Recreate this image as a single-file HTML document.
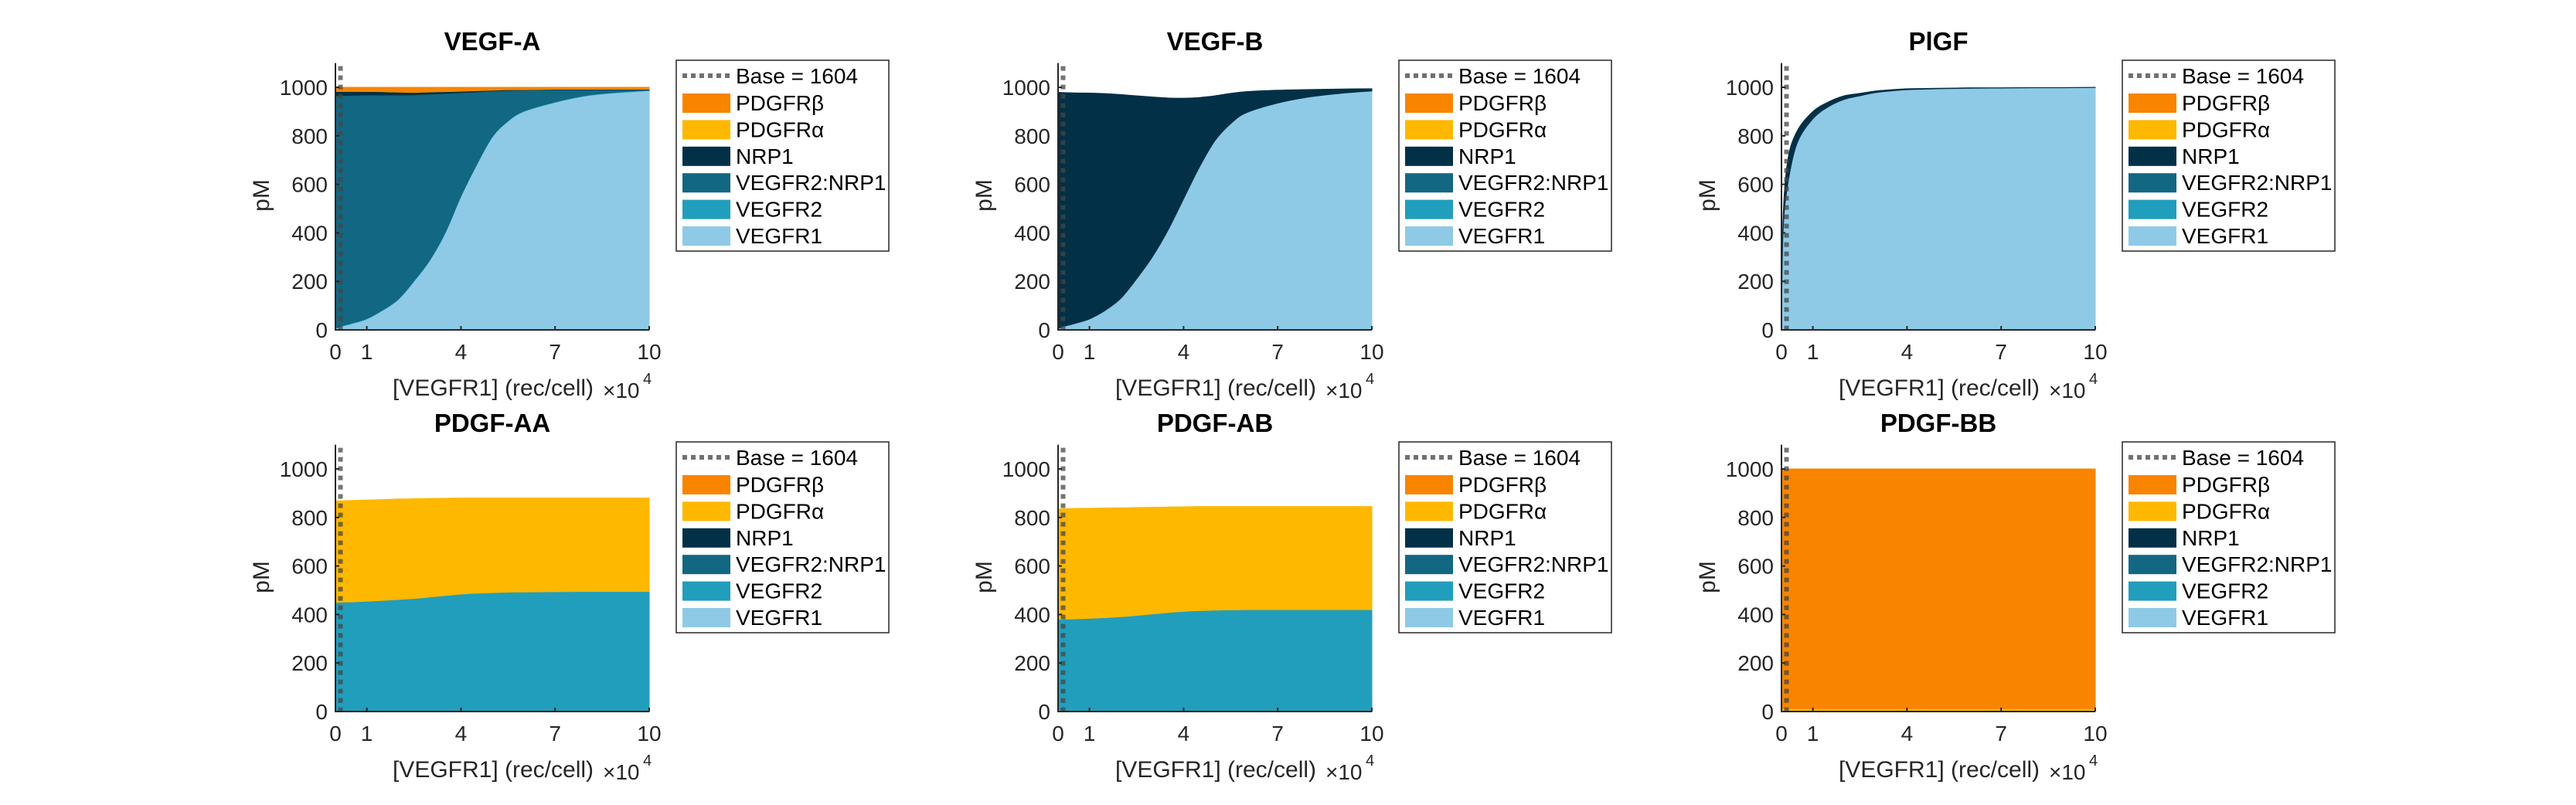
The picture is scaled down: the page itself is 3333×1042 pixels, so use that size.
<!DOCTYPE html>
<html><head><meta charset="utf-8"><style>
html,body{margin:0;padding:0;background:#fff;}
svg{display:block;font-family:"Liberation Sans",Arial,sans-serif;}
</style></head><body>
<svg id="fig" width="3333" height="1042" viewBox="0 0 3333 1042"></svg>
<script>
const xs=[0,0.05,0.2,0.5,1,1.5,2,2.5,3,3.5,4,4.5,5,5.5,6,7,8,9,10];
const seriesNames=["VEGFR1","VEGFR2","VEGFR2:NRP1","NRP1","PDGFRα","PDGFRβ"];
const xTicks=[0,1,4,7,10];
const yTicks=[0,200,400,600,800,1000];
const baseValue=1604;
const titles=["VEGF-A","VEGF-B","PlGF","PDGF-AA","PDGF-AB","PDGF-BB"];
const z=xs.map(()=>0);
const vegfA_R1=[5,8,15,25,45,80,125,200,285,400,550,680,795,860,900,938,965,978,986];
const vegfA_R2=xs.map(()=>2);
const vegfA_V2N1=[958,955,949,940,921,886,841,767,685,573,426,299,188,125,86,50,23,10,2];
const vegfA_NRP1=[18,18,17,16,15,14,12,10,9,7,6,5,3,3,2,2,2,2,2];
const vegfA_Pa=xs.map(()=>1);
const vegfA_Pb=[16,16,16,16,16,17,19,20,18,17,15,13,11,9,9,7,7,7,7];
const vegfB_R1=[5,8,15,25,45,80,130,210,300,410,540,670,780,850,895,935,960,975,985];
const vegfB_NRP1=[975,971,963,952,931,894,840,755,660,546,415,288,185,125,87,53,31,18,9];
const plgf_R1=[0,400,600,770,870,920,950,965,978,985,990,992,994,995,996,997,998,998,999];
const plgf_NRP1=[0,60,100,50,30,20,15,10,7,5,4,3,2,2,2,1,1,1,1];
const aa_R2=[450,450,451,452,455,458,462,466,472,478,484,488,490,492,493,494,495,495,495];
const aa_Pa=[418,418,418,418,417,416,414,411,406,401,396,392,390,388,387,386,385,385,385];
const ab_R2=[380,380,381,382,384,387,391,396,402,408,413,416,418,419,420,420,420,420,420];
const ab_Pa=[455,455,455,455,454,452,449,445,440,435,431,429,427,426,425,425,425,425,425];
const bb_Pa=xs.map(()=>12);
const bb_Pb=xs.map(()=>988);
const colors=["#8ECAE6","#219EBC","#126782","#023047","#FFB800","#F98400"];
const panels=[
 [vegfA_R1,vegfA_R2,vegfA_V2N1,vegfA_NRP1,vegfA_Pa,vegfA_Pb],
 [vegfB_R1,z,z,vegfB_NRP1,z,z],
 [plgf_R1,z,z,plgf_NRP1,z,z],
 [z,aa_R2,z,z,aa_Pa,z],
 [z,ab_R2,z,z,ab_Pa,z],
 [z,z,z,z,bb_Pa,bb_Pb]];
const NS="http://www.w3.org/2000/svg";
const svg=document.getElementById('fig');
function mk(tag,attrs,parent,text){const e=document.createElementNS(NS,tag);for(const k in attrs)e.setAttribute(k,attrs[k]);if(text!==undefined)e.textContent=text;parent.appendChild(e);return e;}
// monotone-ish smooth segment path through points (Catmull-Rom with clamped tangents)
function smooth(pts){
 let d='';
 for(let i=0;i<pts.length-1;i++){
  const p0=pts[Math.max(i-1,0)],p1=pts[i],p2=pts[i+1],p3=pts[Math.min(i+2,pts.length-1)];
  const c1=[p1[0]+(p2[0]-p0[0])/6,p1[1]+(p2[1]-p0[1])/6];
  const c2=[p2[0]-(p3[0]-p1[0])/6,p2[1]-(p3[1]-p1[1])/6];
  const lo=Math.min(p1[1],p2[1]),hi=Math.max(p1[1],p2[1]);
  c1[1]=Math.min(Math.max(c1[1],lo),hi);c2[1]=Math.min(Math.max(c2[1],lo),hi);
  d+=`C${c1[0]},${c1[1]} ${c2[0]},${c2[1]} ${p2[0]},${p2[1]}`;
 }
 return d;
}
const colX=[434,1369,2305], rowY=[427,921];
const W=406, yMax=1100, pxPerUnit=0.314;
panels.forEach((layers,pi)=>{
 const L=colX[pi%3], B=rowY[Math.floor(pi/3)];
 const g=mk('g',{},svg);
 
 
 const X=v=>L+v/10*W, Y=v=>B-v*pxPerUnit;
 const T=B-yMax*pxPerUnit;
 let cum=xs.map(()=>0);
 layers.forEach((vals,li)=>{
  if(vals.every(v=>v===0))return;
  const top=cum.map((c,i)=>c+vals[i]);
  const tp=xs.map((x,i)=>[X(x),Y(top[i])]);
  const bp=xs.map((x,i)=>[X(x),Y(cum[i])]).reverse();
  const d='M'+tp[0][0]+','+tp[0][1]+smooth(tp)+'L'+bp[0][0]+','+bp[0][1]+smooth(bp)+'Z';
  const p=mk('path',{d:d,fill:colors[li],stroke:colors[li],'stroke-width':1},g);
  
  
  cum=top;
 });
 const bl=mk('line',{x1:X(baseValue/10000),x2:X(baseValue/10000),y1:T+4,y2:B,stroke:'rgba(70,70,70,0.75)','stroke-width':6,'stroke-dasharray':'6 6'},g);
 
 
 const ax=mk('path',{d:`M${L},${T}L${L},${B}L${L+W},${B}`,fill:'none',stroke:'#262626','stroke-width':2},g);
 
 
 yTicks.forEach(t=>{
  mk('line',{x1:L,x2:L+5,y1:Y(t),y2:Y(t),stroke:'#262626','stroke-width':2},g);
  const tx=mk('text',{x:L-10,y:Y(t)+10,'text-anchor':'end','font-size':28,fill:'#262626'},g,String(t));
  
  
 });
 xTicks.forEach(t=>{
  mk('line',{x1:X(t),x2:X(t),y1:B,y2:B-5,stroke:'#262626','stroke-width':2},g);
  const tx=mk('text',{x:X(t),y:B+38,'text-anchor':'middle','font-size':28,fill:'#262626'},g,String(t));
  
  
 });
 const xl=mk('text',{x:L+204,y:B+85,'text-anchor':'middle','font-size':30,fill:'#262626'},g,'[VEGFR1] (rec/cell)');
 
 
 const ex=mk('text',{x:L+346,y:B+88,'font-size':28,fill:'#262626'},g,'×10');
 
 
 mk('text',{x:L+398,y:B+70,'font-size':20,fill:'#262626'},g,'4');
 const yl=mk('text',{x:0,y:0,'text-anchor':'middle','font-size':30,fill:'#262626',transform:`translate(${L-86},${B-174}) rotate(-90)`},g,'pM');
 
 
 const ti=mk('text',{x:L+203,y:B-362,'text-anchor':'middle','font-size':33,'font-weight':'bold',fill:'#000'},g,titles[pi]);
 
 
 const lg=mk('g',{},g);
 
 
 const lx=L+441, ly=B-349;
 mk('rect',{x:lx,y:ly,width:275,height:247,fill:'#fff',stroke:'#262626','stroke-width':1.5},lg);
 mk('line',{x1:lx+8,x2:lx+70,y1:ly+20,y2:ly+20,stroke:'#707070','stroke-width':6,'stroke-dasharray':'6 5'},lg);
 const t0=mk('text',{x:lx+77,y:ly+30,'font-size':28,fill:'#000'},lg,'Base = 1604');
 
 
 const order=[5,4,3,2,1,0];
 order.forEach((li,k)=>{
  const yy=ly+55+k*34.4;
  mk('rect',{x:lx+8,y:yy-12,width:62,height:25,fill:colors[li]},lg);
  const t=mk('text',{x:lx+77,y:yy+10,'font-size':28,fill:'#000'},lg,seriesNames[li]);
  
  
 });
});
</script>
</body></html>
